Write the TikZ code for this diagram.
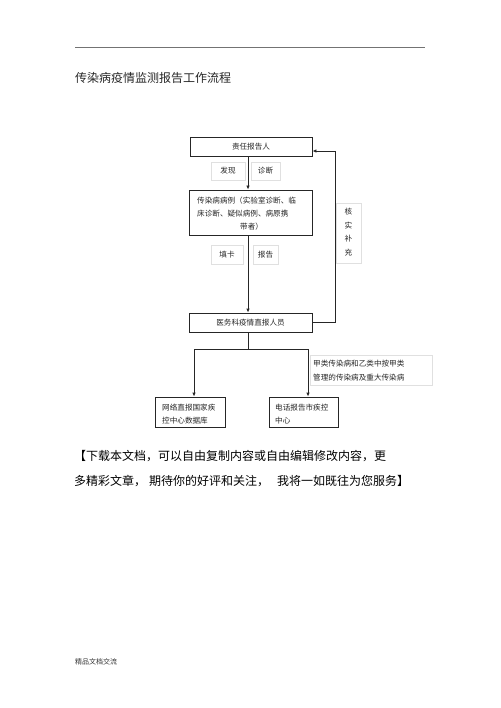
\documentclass[tikz,border=0pt]{standalone}
\usepackage{fontspec}
\setmainfont{Noto Sans CJK SC}
\usetikzlibrary{arrows.meta}
\begin{document}
\begin{tikzpicture}[x=1pt,y=-1pt,
  txt/.style={font=\fontsize{7.6}{9}\selectfont, inner sep=0pt, text=black!85},
  mainbox/.style={draw=black!85, line width=0.8pt, inner sep=0pt},
  labbox/.style={draw=black!12, line width=0.6pt, inner sep=0pt, font=\fontsize{7.6}{9}\selectfont, text=black!85},
  conn/.style={draw=black!85, line width=0.8pt},
  arr/.style={conn, -{Latex[length=4pt,width=3.4pt]}}]
\useasboundingbox (0,0) rectangle (500,708);
\fill[white] (0,0) rectangle (500,708);
% header
\coordinate (hl) at (75,47);
\coordinate (hr) at (425,47);
\draw[black!55, line width=0.6pt] (hl) -- (hr);
\node[anchor=west, inner sep=0pt, font=\fontsize{12}{14}\selectfont, text=black!85] (title) at (75,78) {传染病疫情监测报告工作流程};
% boxes
\node[mainbox, minimum width=122pt, minimum height=19pt, txt] (b1) at (251,146.5) {责任报告人};
\node[labbox, minimum width=34pt, minimum height=18pt] (fx) at (228,171) {发现};
\node[labbox, minimum width=29pt, minimum height=18pt] (zd) at (265.5,171) {诊断};
\node[mainbox, minimum width=123pt, minimum height=45pt] (b2) at (250.5,212.5) {};
\node[txt, anchor=west] (b2a) at (197,201) {传染病病例（实验室诊断、临};
\node[txt, anchor=west] (b2b) at (197,214) {床诊断、疑似病例、病原携};
\node[txt, anchor=west] (b2c) at (240,227) {带者）};
\node[labbox, minimum width=32pt, minimum height=19pt] (tk) at (227,254.5) {填卡};
\node[labbox, minimum width=25pt, minimum height=19pt] (bg) at (265.5,254.5) {报告};
\node[labbox, minimum width=25pt, minimum height=60pt] (hs) at (348.5,233) {};
\node[txt] (hs1) at (348.5,212) {核};
\node[txt] (hs2) at (348.5,225.5) {实};
\node[txt] (hs3) at (348.5,239) {补};
\node[txt] (hs4) at (348.5,252.5) {充};
\node[mainbox, minimum width=123pt, minimum height=19pt, txt] (b3) at (250.5,322.5) {医务科疫情直报人员};
\node[mainbox, minimum width=70pt, minimum height=30pt] (b4) at (190,412) {};
\node[txt, anchor=west] (b4a) at (162,408) {网络直报国家疾};
\node[txt, anchor=west] (b4b) at (162,421) {控中心数据库};
\node[mainbox, minimum width=69pt, minimum height=30pt] (b5) at (303.5,412) {};
\node[txt, anchor=west] (b5a) at (275,408) {电话报告市疾控};
\node[txt, anchor=west] (b5b) at (275,421) {中心};
\node[labbox, minimum width=122pt, minimum height=30pt] (lab) at (371,370) {};
\node[txt, anchor=west] (laba) at (313,364) {甲类传染病和乙类中按甲类};
\node[txt, anchor=west] (labb) at (313,378) {管理的传染病及重大传染病};
% connectors
\coordinate (sp) at (248,0);
\coordinate (fb) at (335,0);
\coordinate (jn) at (248,349);
\coordinate (la) at (194,349);
\coordinate (ra) at (308,349);
\draw[arr] (b1.south -| sp) -- (b2.north -| sp);
\draw[arr] (b2.south -| sp) -- (b3.north -| sp);
\draw[arr] (b3.east) -- (b3.east -| fb) |- ([yshift=-4.5pt]b1.east);
\draw[conn] (b3.south -| sp) -- (jn);
\draw[conn] (la) -- (ra);
\draw[arr] (la) -- (la |- b4.north);
\draw[arr] (ra) -- (ra |- b5.north);
% bottom text
\node[anchor=west, inner sep=0pt, font=\fontsize{12}{14}\selectfont, text=black] (t1) at (74,456) {【下载本文档，可以自由复制内容或自由编辑修改内容，更};
\node[anchor=west, inner sep=0pt, font=\fontsize{12}{14}\selectfont, text=black] (t2) at (74,481) {多精彩文章，\hspace{3pt}期待你的好评和关注，\hspace{8pt}我将一如既往为您服务】};
\node[anchor=west, inner sep=0pt, font=\fontsize{7}{8}\selectfont, text=black!80] (foot) at (75,662) {精品文档交流};
\end{tikzpicture}
\end{document}
